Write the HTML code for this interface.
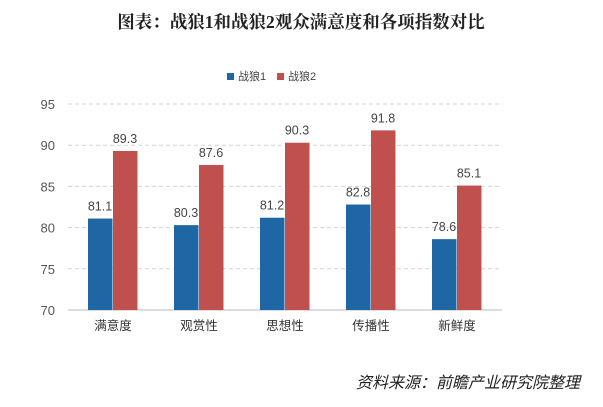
<!DOCTYPE html>
<html><head><meta charset="utf-8"><style>
body{margin:0;width:603px;height:402px;background:#fff;overflow:hidden;font-family:"Liberation Sans","Noto Sans CJK SC",sans-serif;}
</style></head><body>
<svg width="603" height="402">
<text x="301" y="28" text-anchor="middle" font-size="17.5" font-weight="bold" fill="#222" font-family="Liberation Serif,Noto Serif CJK SC,serif">图表：战狼1和战狼2观众满意度和各项指数对比</text>
<g>
<rect x="227" y="73" width="7" height="7" fill="#1f67a4"/>
<text x="238" y="80" font-size="11" fill="#444">战狼1</text>
<rect x="277" y="73" width="7" height="7" fill="#c0504d"/>
<text x="288" y="80" font-size="11" fill="#444">战狼2</text>
</g>
<g id="plot"></g>
<text x="580" y="388" text-anchor="end" font-size="16" font-style="italic" fill="#222">资料来源：前瞻产业研究院整理</text>
</svg>
<script>
const categories=["满意度","观赏性","思想性","传播性","新鲜度"];
const series1=[81.1,80.3,81.2,82.8,78.6];
const series2=[89.3,87.6,90.3,91.8,85.1];
const ticks=[70,75,80,85,90,95];
const NS="http://www.w3.org/2000/svg";
const g=document.getElementById('plot');
const x0=70,step=86,yMin=70,yMax=95,yTop=104,yBot=310;
const y=v=>yBot-(v-yMin)/(yMax-yMin)*(yBot-yTop);
function mk(t,a){const e=document.createElementNS(NS,t);for(const k in a)e.setAttribute(k,a[k]);g.appendChild(e);return e;}
ticks.forEach(t=>{
 const l=mk('line',{x1:68,x2:502,y1:y(t),y2:y(t),stroke:t===70?'#bbb':'#d4d4d4','stroke-dasharray':t===70?'':'4,3'});
 
 
 const tx=mk('text',{x:55,y:y(t)+5,'text-anchor':'end','font-size':13,fill:'#555'});tx.textContent=t;
 
 
});
categories.forEach((c,i)=>{
 const cx=x0+step*i+step/2;
 [[series1[i],'#1f67a4',cx-25],[series2[i],'#c0504d',cx]].forEach(([v,col,bx],j)=>{
  const r=mk('rect',{x:bx,y:y(v),width:24.5,height:yBot-y(v),fill:col});
  
  
  const t=mk('text',{x:bx+12,y:y(v)-8,'text-anchor':'middle','font-size':12.5,fill:'#444'});t.textContent=v.toFixed(1);
  
  
 });
 const t=mk('text',{x:cx,y:330,'text-anchor':'middle','font-size':12.5,fill:'#333'});t.textContent=c;
 
 
});
</script>
</body></html>
